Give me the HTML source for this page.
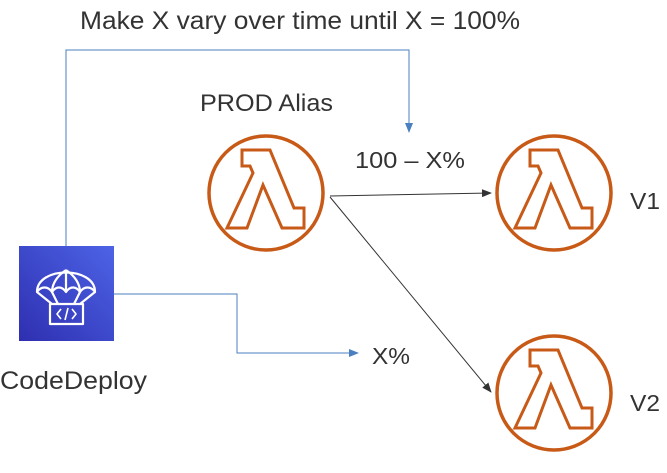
<!DOCTYPE html>
<html><head><style>body{margin:0;background:#fff}</style></head><body>
<svg width="667" height="468" xmlns="http://www.w3.org/2000/svg" font-family="Liberation Sans, sans-serif" fill="#333">
<defs>
<linearGradient id="g" x1="0" y1="1" x2="1" y2="0"><stop offset="0" stop-color="#2e2fb0"/><stop offset="1" stop-color="#4d63e6"/></linearGradient>
<marker id="a" markerWidth="10" markerHeight="8" refX="9" refY="4" orient="auto" markerUnits="userSpaceOnUse"><path d="M0,0 L10,4 L0,8 z" fill="#333"/></marker>
<marker id="b" markerWidth="10" markerHeight="8" refX="9" refY="4" orient="auto" markerUnits="userSpaceOnUse"><path d="M0,0 L10,4 L0,8 z" fill="#4a7fc0"/></marker>
<g id="lam" fill="none" stroke="#c85a18" stroke-width="3.5" stroke-linejoin="miter">
<circle cx="0" cy="0" r="57"/>
<path d="M-24,-43 L4,-43 L28,15 L38,15 L38,35 L16,35 L-3,-8 L-19,35 L-39,35 L-13,-20 L-16,-27 L-24,-27 Z" stroke-width="3"/>
</g>
</defs>
<text x="80" y="29" font-size="25" textLength="440" lengthAdjust="spacingAndGlyphs">Make X vary over time until X = 100%</text>
<text x="200" y="111" font-size="24" textLength="133" lengthAdjust="spacingAndGlyphs">PROD Alias</text>
<text x="355" y="168" font-size="23" textLength="110" lengthAdjust="spacingAndGlyphs">100 – X%</text>
<text x="630" y="209" font-size="23" textLength="30" lengthAdjust="spacingAndGlyphs">V1</text>
<text x="630" y="411" font-size="23" textLength="30" lengthAdjust="spacingAndGlyphs">V2</text>
<text x="372" y="364" font-size="23" textLength="38" lengthAdjust="spacingAndGlyphs">X%</text>
<text x="0" y="389" font-size="25" textLength="147" lengthAdjust="spacingAndGlyphs">CodeDeploy</text>
<polyline points="66,246 66,50 409,50 409,132" fill="none" stroke="#4a7fc0" stroke-width="1" marker-end="url(#b)"/>
<polyline points="114,294 237,294 237,353 358,353" fill="none" stroke="#4a7fc0" stroke-width="1" marker-end="url(#b)"/>
<line x1="330" y1="196" x2="491" y2="193" stroke="#333" stroke-width="1" marker-end="url(#a)"/>
<line x1="330" y1="197" x2="491" y2="392" stroke="#333" stroke-width="1" marker-end="url(#a)"/>
<use href="#lam" x="266" y="193"/>
<use href="#lam" x="554" y="193"/>
<use href="#lam" x="554" y="393"/>
<rect x="19" y="246" width="95" height="95" fill="url(#g)"/>
<g fill="none" stroke="#fff" stroke-width="2.2" stroke-linejoin="round">
<path d="M37,292 C37,266 95,266 95,292 C91,286 84,286 80,292 C76,286 70,286 66,292 C62,286 56,286 52,292 C48,286 41,286 37,292 Z"/>
<path d="M66,270 C57,276 52,284 52,292 M66,270 C75,276 80,284 80,292 M66,270 L66,292"/>
<path d="M37,292 L52,304 M52,292 L58,304 M80,292 L74,304 M95,292 L80,304"/>
<rect x="50" y="304" width="33" height="20"/>
<path d="M61,309 L57,314 L61,319 M72,309 L76,314 L72,319 M68,308 L65,320" stroke-width="1.6"/>
</g>
</svg>
</body></html>
